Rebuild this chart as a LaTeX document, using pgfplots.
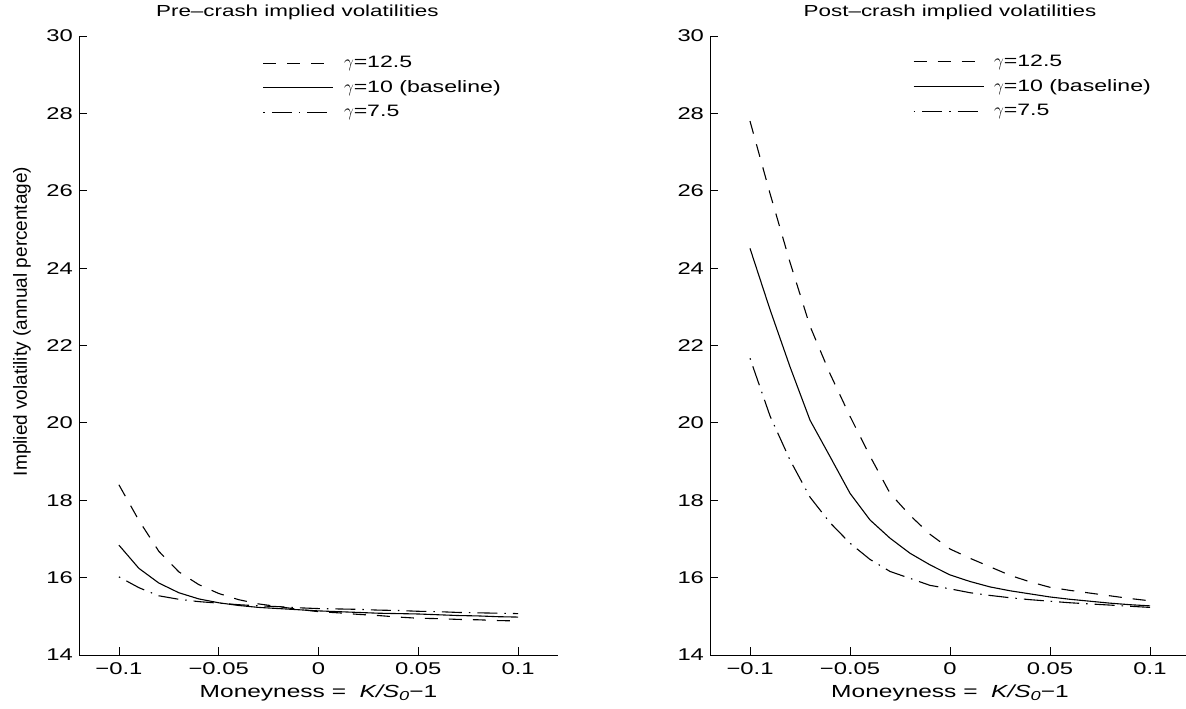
\documentclass[border=0pt]{standalone}
\usepackage{pgfplots}
\pgfplotsset{compat=1.18}
\usepackage{fontspec}
\setmainfont{Liberation Sans}[FakeStretch=1.4]
\newfontfamily\ylfont{Liberation Sans}
\pgfplotstableread{
x dsh sol dd
-0.10 18.40 16.84 16.02
-0.09 17.48 16.24 15.74
-0.08 16.68 15.86 15.53
-0.07 16.15 15.61 15.44
-0.06 15.82 15.45 15.38
-0.05 15.59 15.35 15.34
-0.04 15.43 15.28 15.30
-0.03 15.32 15.23 15.27
-0.02 15.25 15.20 15.25
-0.01 15.18 15.17 15.22
0.00 15.12 15.14 15.20
0.01 15.09 15.12 15.19
0.02 15.05 15.10 15.18
0.03 15.02 15.08 15.16
0.04 14.98 15.07 15.15
0.05 14.95 15.06 15.13
0.06 14.94 15.04 15.12
0.07 14.92 15.02 15.10
0.08 14.91 15.01 15.09
0.09 14.89 14.99 15.08
0.10 14.88 14.98 15.07
}\pre
\pgfplotstableread{
x dsh sol dd
-0.10 27.80 24.51 21.67
-0.09 25.93 22.93 20.18
-0.08 24.15 21.45 19.04
-0.07 22.50 20.07 18.08
-0.06 21.27 19.13 17.42
-0.05 20.17 18.18 16.89
-0.04 19.14 17.49 16.47
-0.03 18.18 17.02 16.16
-0.02 17.61 16.63 15.98
-0.01 17.12 16.33 15.80
0.00 16.74 16.07 15.71
0.01 16.50 15.90 15.61
0.02 16.28 15.76 15.54
0.03 16.06 15.66 15.48
0.04 15.89 15.58 15.43
0.05 15.75 15.50 15.39
0.06 15.67 15.44 15.35
0.07 15.60 15.39 15.32
0.08 15.53 15.34 15.29
0.09 15.46 15.30 15.26
0.10 15.40 15.27 15.23
}\post
\pgfplotsset{
  common/.style={
    scale only axis, height=619pt,
    ymin=14, ymax=30, ytick={14,16,...,30},
    yticklabels={14,16,18,20,22,24,26,28,30},
    xmin=-0.12, xmax=0.12,
    xtick={-0.1,-0.05,0,0.05,0.1},
    xticklabels={−0.1,−0.05,0,0.05,0.1},
    axis x line*=bottom, axis y line*=left,
    axis line style={black, line width=0.8pt, -},
    tick align=inside, major tick length=8pt,
    tick style={black, line width=0.8pt},
    ticklabel style={font=\fontsize{17}{20}\selectfont},
    xticklabel style={yshift=-4pt},
    yticklabel style={xshift=-2.5pt},
    title style={font=\fontsize{16}{20}\selectfont, anchor=base},
    xlabel={Moneyness =\ \ {\itshape K/S}\raisebox{-0.35ex}{\fontsize{13}{14}\selectfont\itshape 0}−1},
    xlabel style={at={(axis description cs:0.5,-0.0679)}, anchor=base, font=\fontsize{17.5}{20}\selectfont},
    legend cell align=left,
    legend style={draw=none, fill=none, inner sep=0pt, outer sep=0pt,
      font=\fontsize{16.5}{20}\selectfont,
      nodes={inner xsep=0pt, inner ysep=0pt, text height=13pt, text depth=4pt},
      row sep=7.7pt, column sep=10pt, anchor=north west},
    legend image code/.code={\draw[##1] (0pt,0pt) -- (70pt,0pt);},
  },
  dsh/.style={black, line width=1.1pt, dash pattern=on 13pt off 11pt},
  sol/.style={black, line width=1.1pt},
  ddt/.style={black, line width=1.1pt, dash pattern=on 1.5pt off 7pt on 20pt off 7pt},
}
\newcommand{\gam}{\ensuremath{\gamma}}
\begin{document}
\begin{tikzpicture}
\begin{axis}[common, at={(79pt,54pt)}, anchor=south west, width=479pt,
  title={Pre–crash implied volatilities},
  title style={at={(axis description cs:0.456,1.021)}},
  ylabel={\ylfont Implied volatility (annual percentage)},
  ylabel style={at={(axis description cs:-0.1086,0.539)}, anchor=base, font=\fontsize{19}{22}\selectfont},
  legend style={at={(axis description cs:0.384,0.970)}}]
\addplot[dsh] table[x=x,y=dsh] {\pre};
\addlegendentry{\gam=12.5}
\addplot[sol] table[x=x,y=sol] {\pre};
\addlegendentry{\gam=10 (baseline)}
\addplot[ddt] table[x=x,y=dd] {\pre};
\addlegendentry{\gam=7.5}
\end{axis}
\begin{axis}[common, at={(710pt,54pt)}, anchor=south west, width=480pt,
  title={Post–crash implied volatilities},
  title style={at={(axis description cs:0.5,1.021)}},
  legend style={at={(axis description cs:0.423,0.972)}}]
\addplot[dsh] table[x=x,y=dsh] {\post};
\addlegendentry{\gam=12.5}
\addplot[sol] table[x=x,y=sol] {\post};
\addlegendentry{\gam=10 (baseline)}
\addplot[ddt] table[x=x,y=dd] {\post};
\addlegendentry{\gam=7.5}
\end{axis}
\pgfresetboundingbox
\path[use as bounding box] (0pt,0pt) rectangle (1186pt,709pt);
\end{tikzpicture}
\end{document}
